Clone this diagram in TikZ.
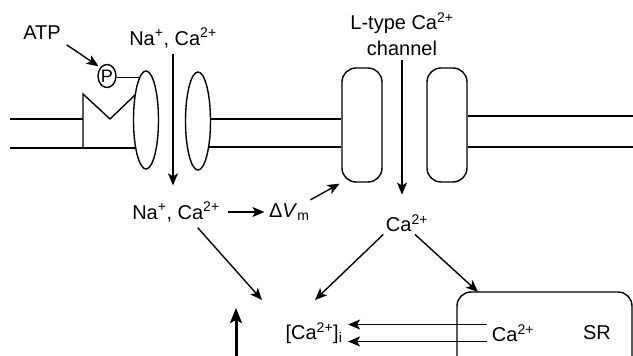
\documentclass[tikz,border=0pt]{standalone}
\usepackage{fontspec}
\setmainfont{Liberation Sans}
\usetikzlibrary{arrows.meta, positioning, shapes.geometric}

\begin{document}
\begin{tikzpicture}[
    x=1pt, y=-1pt,
    line width=1.4pt,
    lbl/.style={inner sep=2pt, align=center, font=\fontsize{20}{26}\selectfont},
    subunit/.style={ellipse, draw=black, line width=1.4pt, minimum width=25pt, minimum height=98pt, inner sep=0pt},
    chanbox/.style={rectangle, rounded corners=14pt, draw=black, line width=1.4pt, minimum width=40pt, minimum height=114pt},
    phos/.style={ellipse, draw=black, line width=1.4pt, minimum width=18pt, minimum height=23pt, inner sep=0pt, font=\fontsize{18}{20}\selectfont},
    arrow/.style={-{Stealth[length=12pt, width=10pt, inset=3pt]}, line width=1.4pt},
    bigarrow/.style={-{Stealth[length=15pt, width=12pt, inset=3pt]}, line width=3pt},
  ]
  \useasboundingbox (0,0) rectangle (633,356);
  \clip (0,0) rectangle (633,356);

  % Channel subunits
  \node[subunit] (el1) at (146,120) {};
  \node[subunit] (el2) at (198,121) {};
  \node[chanbox] (ltl) at (362,125) {};
  \node[chanbox] (ltr) at (447,125) {};

  % Membrane
  \draw (10,119) -- (83,119);
  \draw (10,148) -- (136,148);
  \draw (83,148) -- (83,94) -- (110,119) -- (135,95);
  \draw (210,119) -- (ltl.west |- 0,119);
  \draw (209,147) -- (ltl.west |- 0,147);
  \draw (ltr.east |- 0,116) -- (633,116);
  \draw (ltr.east |- 0,147) -- (633,147);

  % Phosphorylation site
  \node[phos] (phos) at (107,76) {P};
  \draw (el1.99) -- (el1.99 -| phos.east);

  % SR
  \draw[rounded corners=14pt] (457,370) -- (457,292) -- (632,292) -- (632,370);
  \coordinate (srtop) at (478,292);

  % Labels
  \node[lbl] (atp) at (42,33) {ATP};
  \node[lbl] (naca1) at (173,38) {Na\textsuperscript{+}, Ca\textsuperscript{2+}};
  \node[lbl] (ltype) at (402,34) {L-type Ca\textsuperscript{2+}\\channel};
  \node[lbl] (naca2) at (176,212) {Na\textsuperscript{+}, Ca\textsuperscript{2+}};
  \node[lbl, right=44pt of naca2] (dvm) {Δ\textit{V}\textsubscript{m}};
  \node[lbl] (ca) at (407,223) {Ca\textsuperscript{2+}};
  \node[lbl] (cai) at (314,333) {[Ca\textsuperscript{2+}]\textsubscript{i}};
  \node[lbl] (srca) at (513,333) {Ca\textsuperscript{2+}};
  \node[lbl] (sr) at (597,333) {SR};

  % Free arrow ends
  \coordinate (cain1) at (262,300);
  \coordinate (cain2) at (315,300);
  \coordinate (bigtail) at (236,360);
  \coordinate (bighead) at (236,308);

  % Arrows
  \draw[arrow, shorten <=4pt, shorten >=2pt] (atp.south east) -- (phos.north west);
  \draw[arrow, shorten <=3pt, shorten >=14pt] (naca1.south) -- (naca1.south |- naca2.north);
  \draw[arrow, shorten <=2pt, shorten >=17pt] (ltype.south) -- (ltype.south |- ca.north);
  \draw[arrow, shorten <=6pt, shorten >=2pt] (naca2) -- (dvm);
  \draw[arrow, shorten <=2pt, shorten >=2pt] (dvm.30) -- (ltl.south west);
  \draw[arrow, shorten <=4pt] ([xshift=19pt]naca2.south) -- (cain1);
  \draw[arrow] (ca.south west) -- (cain2);
  \draw[arrow] (ca.-55) -- (srtop);
  \draw[arrow, shorten <=2pt, shorten >=3pt] ([yshift=8.5pt]srca.west) -- ([yshift=8.5pt]cai.east);
  \draw[arrow, shorten <=2pt, shorten >=3pt] ([yshift=-8.5pt]srca.west) -- ([yshift=-8.5pt]cai.east);
  \draw[bigarrow] (bigtail) -- (bighead);

\end{tikzpicture}
\end{document}
